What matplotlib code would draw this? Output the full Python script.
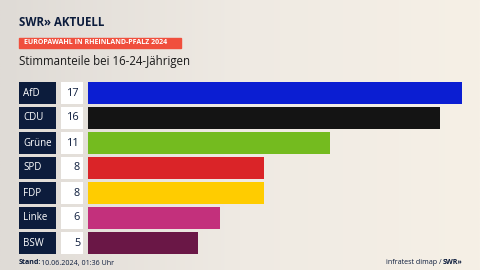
import numpy as np
import matplotlib.pyplot as plt
from matplotlib.colors import LinearSegmentedColormap

plt.rcParams['font.family'] = ['Open Sans', 'DejaVu Sans']

parties = ['AfD', 'CDU', 'Grüne', 'SPD', 'FDP', 'Linke', 'BSW']
shares = [17, 16, 11, 8, 8, 6, 5]
colors = ['#0b1ed2', '#141414', '#74bb1f', '#da2428', '#ffcc00', '#c3307c', '#6a1746']

W, H = 480, 270
fig = plt.figure(figsize=(W / 100, H / 100), dpi=100)

# background gradient
bg = fig.add_axes([0, 0, 1, 1])
cmap = LinearSegmentedColormap.from_list('bg', ['#dfdbd6', '#efeae3', '#f6f0e6'])
bg.imshow(np.linspace(0, 1, 256).reshape(1, -1), aspect='auto', cmap=cmap,
          extent=[0, 1, 0, 1])
bg.set_axis_off()

# header
fig.text(19 / W, 1 - 22 / H, 'SWR\u00bb AKTUELL', fontsize=8.3, fontweight='bold',
         color='#0c1c3c', va='center', ha='left')
fig.patches.append(plt.Rectangle((19 / W, 1 - 48 / H), 162 / W, 10 / H,
                                 transform=fig.transFigure, color='#f04f3d'))
fig.text(24 / W, 1 - 43 / H, 'EUROPAWAHL IN RHEINLAND-PFALZ 2024', fontsize=5.0,
         fontweight='bold', color='white', va='center', ha='left')
fig.text(19 / W, 1 - 62 / H, 'Stimmanteile bei 16-24-Jährigen', fontsize=8.3,
         color='#1a1a1a', va='center', ha='left')

# chart area: x pixel 19..462, rows 82..254
px = 22.0  # pixels per percentage point
x0 = 88.0
ax = fig.add_axes([19 / W, 1 - 254 / H, (462 - 19) / W, (254 - 82) / H])
ax.set_xlim((19 - x0) / px, (462 - x0) / px)
ax.set_ylim(len(parties) - 0.56, -0.44)
ax.set_axis_off()

y = np.arange(len(parties))
h = 22 / 25
lab_l, lab_r = (19 - x0) / px, (56 - x0) / px
num_l, num_r = (61 - x0) / px, (83 - x0) / px
ax.barh(y, lab_r - lab_l, left=lab_l, height=h, color='#0c1c3c')
ax.barh(y, num_r - num_l, left=num_l, height=h, color='white')
ax.barh(y, shares, height=h, color=colors)
for yi, p, s in zip(y, parties, shares):
    ax.text(lab_l + 4 / px, yi, p, color='white', fontsize=7.0, va='center', ha='left')
    ax.text(num_r - 3 / px, yi, str(s), color='#0c1c3c', fontsize=7.8,
            va='center', ha='right')

# footer
fig.text(19 / W, 1 - 263 / H, 'Stand:', fontsize=5.1, fontweight='bold',
         color='#0c1c3c', va='center', ha='left')
fig.text(41 / W, 1 - 263 / H, '10.06.2024, 01:36 Uhr', fontsize=5.1,
         color='#0c1c3c', va='center', ha='left')
fig.text(443 / W, 1 - 262 / H, 'infratest dimap / ', fontsize=5.1,
         color='#0c1c3c', va='center', ha='right')
fig.text(443 / W, 1 - 262 / H, 'SWR\u00bb', fontsize=5.1, fontweight='bold',
         color='#0c1c3c', va='center', ha='left')

fig.savefig('out.png', dpi=100)
